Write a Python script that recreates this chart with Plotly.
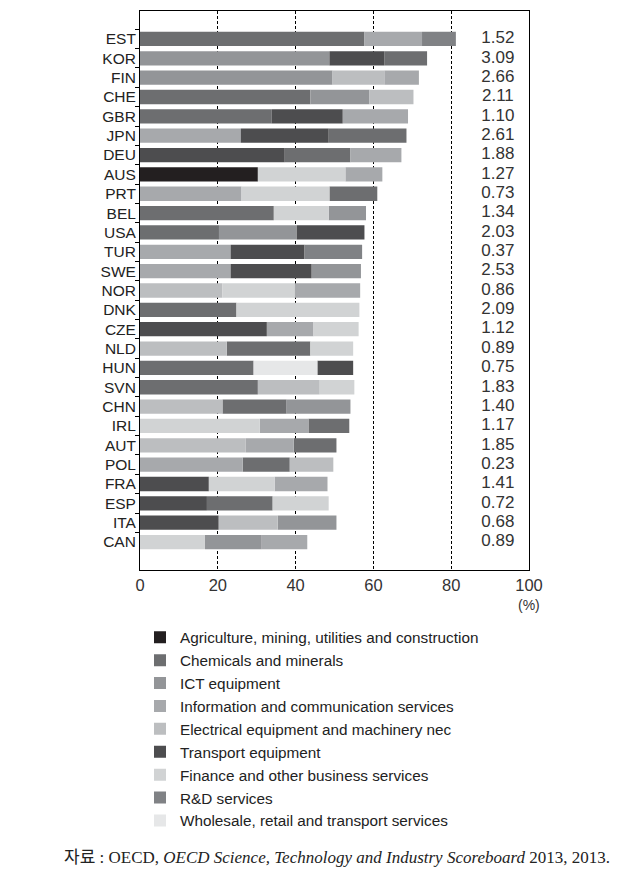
import plotly.graph_objects as go

countries = ["EST", "KOR", "FIN", "CHE", "GBR", "JPN", "DEU", "AUS", "PRT", "BEL",
             "USA", "TUR", "SWE", "NOR", "DNK", "CZE", "NLD", "HUN", "SVN", "CHN",
             "IRL", "AUT", "POL", "FRA", "ESP", "ITA", "CAN"]

berd_gdp = [1.52, 3.09, 2.66, 2.11, 1.10, 2.61, 1.88, 1.27, 0.73, 1.34,
            2.03, 0.37, 2.53, 0.86, 2.09, 1.12, 0.89, 0.75, 1.83, 1.40,
            1.17, 1.85, 0.23, 1.41, 0.72, 0.68, 0.89]

sectors = ["Agriculture, mining, utilities and construction",
           "Chemicals and minerals",
           "ICT equipment",
           "Information and communication services",
           "Electrical equipment and machinery nec",
           "Transport equipment",
           "Finance and other business services",
           "R&D services",
           "Wholesale, retail and transport services"]

sector_colors = ["#231f20", "#6d6e70", "#939598", "#a7a9ac", "#bcbec0",
                 "#4d4d4f", "#d1d3d4", "#808285", "#e6e7e8"]

# short codes -> sector index
A, CH, ICT, INF, EL, TR, FIN, RD, WH = range(9)

top1_sector = [CH, ICT, ICT, CH, CH, INF, TR, A, INF, CH,
               CH, INF, INF, EL, CH, TR, EL, CH, CH, EL,
               FIN, EL, INF, TR, TR, TR, FIN]
top1_share = [57.7, 48.7, 49.5, 43.8, 33.8, 25.9, 37.2, 30.3, 26.1, 34.4,
              20.3, 23.3, 23.3, 21.2, 24.8, 32.6, 22.3, 29.2, 30.3, 21.2,
              30.8, 27.2, 26.4, 17.7, 17.2, 20.2, 16.7]

top2_sector = [INF, TR, EL, ICT, TR, TR, CH, FIN, FIN, FIN,
               ICT, TR, TR, FIN, FIN, INF, CH, WH, EL, CH,
               INF, INF, CH, FIN, CH, EL, ICT]
top2_share = [14.8, 14.1, 13.3, 15.2, 18.3, 22.6, 16.9, 22.5, 22.6, 14.1,
              20.0, 19.0, 20.8, 18.5, 31.6, 12.0, 21.5, 16.4, 15.9, 16.5,
              12.5, 12.3, 12.1, 16.9, 16.9, 15.2, 14.6]

top3_sector = [RD, CH, INF, EL, INF, CH, INF, INF, CH, ICT,
               TR, RD, ICT, INF, None, FIN, FIN, TR, FIN, ICT,
               CH, CH, EL, INF, FIN, ICT, INF]
top3_share = [8.7, 11.0, 8.9, 11.3, 16.8, 20.0, 13.1, 9.5, 12.3, 9.6,
              17.4, 14.8, 12.7, 16.9, None, 11.6, 11.0, 9.2, 8.9, 16.4,
              10.5, 11.0, 11.2, 13.6, 14.4, 15.1, 11.7]

x_ticks = [0, 20, 40, 60, 80, 100]

# build per-sector widths and bases through the stacking order of each country
n = len(countries)
widths = {s: [None] * n for s in range(len(sectors))}
bases = {s: [None] * n for s in range(len(sectors))}
for i in range(n):
    start = 0.0
    for sec, sh in ((top1_sector[i], top1_share[i]),
                    (top2_sector[i], top2_share[i]),
                    (top3_sector[i], top3_share[i])):
        if sec is None or sh is None:
            continue
        widths[sec][i] = sh
        bases[sec][i] = start
        start += sh

fig = go.Figure()
for s, name in enumerate(sectors):
    fig.add_trace(go.Bar(
        y=countries, x=widths[s], base=bases[s], orientation="h",
        name=name, marker=dict(color=sector_colors[s], line=dict(width=0)),
        legendgroup=str(s), hoverinfo="skip"))

fig.add_trace(go.Scatter(
    y=countries, x=[92] * n, mode="text",
    text=[f"{v:.2f}" for v in berd_gdp],
    textfont=dict(size=17, color="#333333", family="Liberation Sans"),
    showlegend=False, cliponaxis=False, hoverinfo="skip"))

fig.update_layout(
    width=627, height=876,
    margin=dict(l=132, r=106, t=3, b=314),
    paper_bgcolor="white", plot_bgcolor="white",
    barmode="overlay", bargap=0.26,
    font=dict(family="Liberation Sans", color="#222222"),
    xaxis=dict(range=[0, 100], tickvals=x_ticks, showgrid=True,
               gridcolor="#000000", griddash="3px,2px", gridwidth=1,
               showline=True, linecolor="#000000", linewidth=1, mirror=True,
               ticks="", zeroline=False,
               tickfont=dict(size=16.5, color="#333333")),
    yaxis=dict(autorange="reversed", showline=True, linecolor="#000000",
               linewidth=1, mirror=True, ticks="outside", tickson="boundaries",
               ticklen=4, tickcolor="#000000", showgrid=False,
               tickfont=dict(size=15.5, color="#222222")),
    legend=dict(x=0.0, y=-0.091, xanchor="left", yanchor="top",
                traceorder="normal", tracegroupgap=0,
                font=dict(size=15.3, color="#222222"),
                bgcolor="rgba(0,0,0,0)"),
    annotations=[
        dict(text="(%)", x=100, y=-0.063, xref="x", yref="paper",
             showarrow=False, xanchor="center", yanchor="middle",
             font=dict(size=14, color="#333333")),
        dict(text="자료 : OECD, <i>OECD Science, Technology and Industry Scoreboard</i> 2013, 2013.",
             x=-0.2, y=-0.515, xref="paper", yref="paper", showarrow=False,
             xanchor="left", yanchor="middle",
             font=dict(size=17, color="#222222",
                       family="Liberation Serif, Noto Sans CJK KR")),
    ],
)

fig.write_html("out.html")
